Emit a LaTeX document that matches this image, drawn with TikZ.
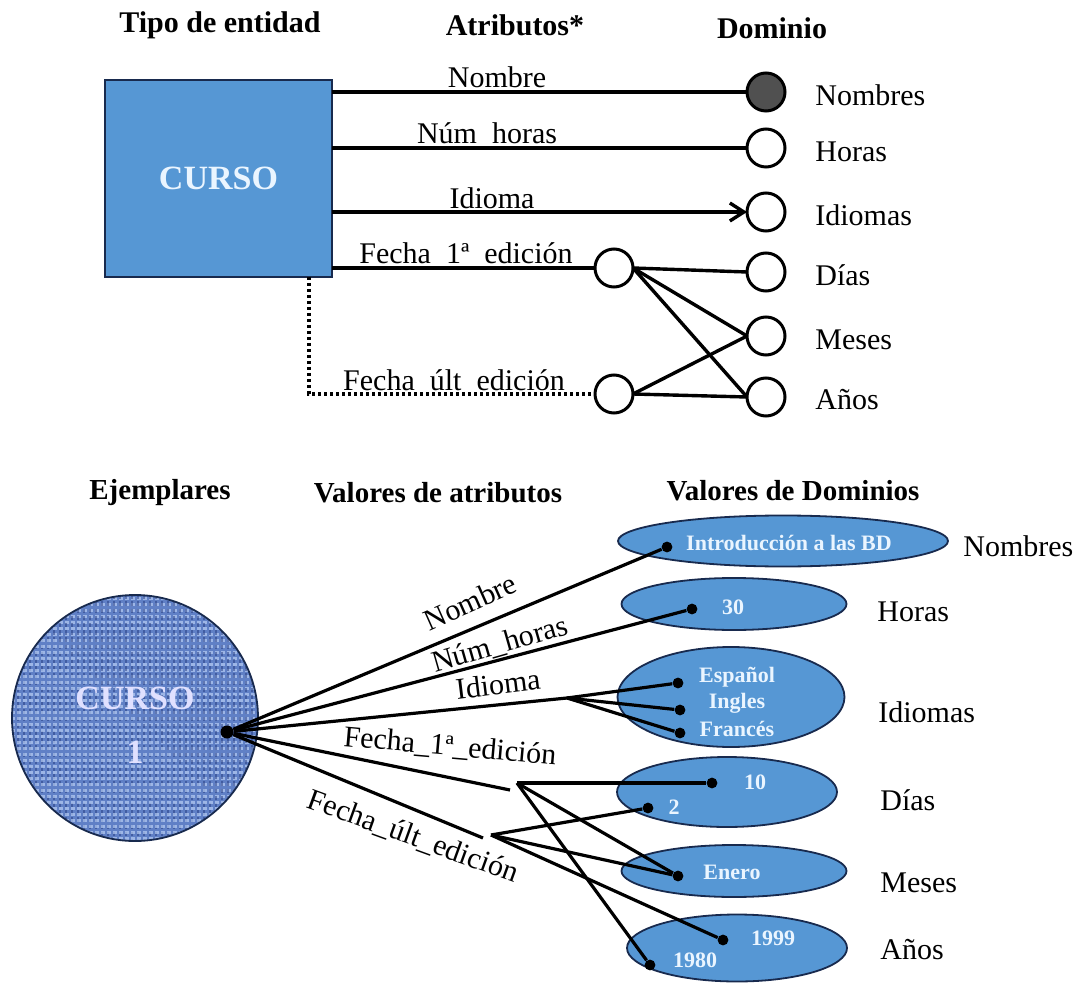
\documentclass[tikz,border=0pt]{standalone}
\usepackage{fontspec}
\setmainfont{Liberation Serif}
\usetikzlibrary{shapes.geometric,arrows.meta}

\definecolor{boxblue}{RGB}{86,151,212}
\definecolor{navy}{RGB}{24,42,78}
\definecolor{paletext}{RGB}{234,245,255}
\definecolor{fabric}{RGB}{96,128,198}
\definecolor{fabriclight}{RGB}{190,212,248}
\definecolor{fabricdark}{RGB}{36,58,126}
\definecolor{darkdom}{RGB}{80,80,80}

\tikzset{
  heading/.style={font=\fontsize{15}{18}\selectfont\bfseries, inner sep=0pt},
  subheading/.style={font=\fontsize{14.5}{17}\selectfont\bfseries, inner sep=0pt},
  lbl/.style={font=\fontsize{15}{18}\selectfont, inner sep=0pt},
  domcircle/.style={circle, draw=black, line width=1.5pt, fill=white, minimum size=19pt, inner sep=0pt, outer sep=0pt},
  attrline/.style={line width=1.7pt},
  link/.style={line width=1.6pt},
  valell/.style={ellipse, draw=navy, line width=0.9pt, fill=boxblue, inner sep=0pt, outer sep=0pt},
  valtext/.style={font=\fontsize{11}{12}\selectfont\bfseries, text=paletext, inner sep=0pt},
  dot/.style={circle, fill=black, inner sep=0pt, minimum size=5.4pt},
  hubdot/.style={circle, fill=black, inner sep=0pt, minimum size=6.5pt},
  instext/.style={font=\fontsize{17}{20}\selectfont\bfseries, text=white!88!blue, inner sep=0pt},
}

\begin{document}
\begin{tikzpicture}[x=0.5pt, y=-0.5pt]
\useasboundingbox (0,0) rectangle (1085,983);

% ---------- entity type level ----------
\node[heading] (h1) at (220,25) {Tipo de entidad};
\node[heading] (h2) at (515,25) {Atributos*};
\node[heading] (h3) at (772,28) {Dominio};

\node[draw=navy, line width=1.1pt, fill=boxblue, minimum width=113.5pt, minimum height=98.5pt,
      inner sep=0pt, outer sep=0pt, font=\fontsize{17}{20}\selectfont\bfseries, text=paletext]
      (sq) at (218.5,178.5) {CURSO};

% domains
\node[domcircle, fill=darkdom] (nom) at (766,92) {};
\node[domcircle] (hor) at (766,148) {};
\node[domcircle] (idi) at (766,212) {};
\node[domcircle] (dia) at (766,272) {};
\node[domcircle] (mes) at (766,336) {};
\node[domcircle] (ano) at (766,397) {};
% intermediate composite attribute circles
\node[domcircle] (f1) at (614,268) {};
\node[domcircle] (fu) at (614,394) {};

\node[lbl, anchor=west] (lnom) at (815,95) {Nombres};
\node[lbl, anchor=west] (lhor) at (815,152) {Horas};
\node[lbl, anchor=west] (lidi) at (815,215) {Idiomas};
\node[lbl, anchor=west] (ldia) at (815,275) {Días};
\node[lbl, anchor=west] (lmes) at (815,340) {Meses};
\node[lbl, anchor=west] (lano) at (815,400) {Años};

% attribute connectors
\draw[attrline] (nom.west -| sq.east) -- (nom.west);
\draw[attrline] (hor.west -| sq.east) -- (hor.west);
\draw[attrline, -{Straight Barb[length=7pt,width=9pt]}] (idi.west -| sq.east) -- (idi.west);
\draw[attrline] (f1.west -| sq.east) -- (f1.west);
\draw[attrline, dash pattern=on 1.5pt off 1.5pt] ([xshift=-11.5pt]sq.south east) |- (fu.west);

\draw[attrline] (f1.east) -- (dia.west);
\draw[attrline] (f1.east) -- (mes.west);
\draw[attrline] (f1.east) -- (ano.west);
\draw[attrline] (fu.east) -- (mes.west);
\draw[attrline] (fu.east) -- (ano.west);

\node[lbl, anchor=base] (anom) at (497,88) {Nombre};
\node[lbl, anchor=base] (ahor) at (487,144) {Núm\ \ horas};
\node[lbl, anchor=base] (aidi) at (492,209) {Idioma};
\node[lbl, anchor=base] (af1) at (466,264) {Fecha\ \ 1ª\ \ edición};
\node[lbl, anchor=base] (afu) at (454,391) {Fecha\ \ últ\ \ edición};

% ---------- instance level ----------
\node[subheading] (h4) at (160,493) {Ejemplares};
\node[subheading] (h5) at (438,493) {Valores de atributos};
\node[subheading] (h6) at (793,491) {Valores de Dominios};

% the course instance, woven texture
\node[circle, draw=navy, line width=0.9pt, fill=fabric, minimum size=123pt, inner sep=0pt,
  path picture={
    \foreach \k in {-22,...,22} {
      \draw[fabriclight, line width=1.5pt, opacity=0.65, dash pattern=on 2pt off 1pt]
        ([shift={(-130,\k*6)}]path picture bounding box.center) -- ++(260,0);
      \draw[fabricdark, line width=0.8pt, opacity=0.5, dash pattern=on 2.2pt off 1.4pt]
        ([shift={(\k*6+3,-131)}]path picture bounding box.center) -- ++(0,262);
    }
  }] (c1) at (135,718) {};
\node[instext] (c1a) at (135,698) {CURSO};
\node[instext] (c1b) at (135,752) {1};
\node[hubdot] (hub) at (227,732) {};

% value ellipses
\node[valell, minimum width=165pt, minimum height=25.5pt] (enom) at (783,541) {};
\node[valell, minimum width=112.5pt, minimum height=26pt] (ehor) at (734,604) {};
\node[valell, minimum width=113.5pt, minimum height=50pt] (eidi) at (731,697) {};
\node[valell, minimum width=110pt, minimum height=35pt] (edia) at (727,792) {};
\node[valell, minimum width=112.5pt, minimum height=26pt] (emes) at (734,871) {};
\node[valell, minimum width=110pt, minimum height=33.5pt] (eano) at (737,948) {};

\node[valtext] (tnom) at (789,543) {Introducción a las BD};
\node[valtext] (thor) at (733,607) {30};
\node[valtext] (tesp) at (737,677) {Español};
\node[valtext] (ting) at (737,703) {Ingles};
\node[valtext] (tfra) at (737,729) {Francés};
\node[valtext] (t10) at (755,782) {10};
\node[valtext] (t2) at (674,807) {2};
\node[valtext] (tene) at (732,872) {Enero};
\node[valtext] (t1999) at (773,938) {1999};
\node[valtext] (t1980) at (695,960) {1980};

\node[dot] (dnom) at (667,547) {};
\node[dot] (dhor) at (692,609) {};
\node[dot] (desp) at (678,683) {};
\node[dot] (ding) at (680,710) {};
\node[dot] (dfra) at (680,733) {};
\node[dot] (d10) at (712,783) {};
\node[dot] (d2) at (648,808) {};
\node[dot] (dene) at (678,876) {};
\node[dot] (d1999) at (723,940) {};
\node[dot] (d1980) at (650,965) {};

\node[lbl, anchor=west] (vnom) at (963,546) {Nombres};
\node[lbl, anchor=west] (vhor) at (877,612) {Horas};
\node[lbl, anchor=west] (vidi) at (878,712) {Idiomas};
\node[lbl, anchor=west] (vdia) at (880,800) {Días};
\node[lbl, anchor=west] (vmes) at (880,883) {Meses};
\node[lbl, anchor=west] (vano) at (880,950) {Años};

% branching points of the attribute values
\coordinate (idb) at (567,698);
\coordinate (f1end) at (510,790);
\coordinate (f1b) at (517,783);
\coordinate (fuend) at (483,838);
\coordinate (fub) at (491,835);

\draw[link] (hub) -- (dnom);
\draw[link] (hub) -- (dhor);
\draw[link] (hub) -- (idb);
\draw[link] (idb) -- (desp);
\draw[link] (idb) -- (ding);
\draw[link] (idb) -- (dfra);
\draw[link] (hub) -- (f1end);
\draw[link] (f1b) -- (d10);
\draw[link] (f1b) -- (dene);
\draw[link] (f1b) -- (d1980);
\draw[link] (hub) -- (fuend);
\draw[link] (fub) -- (d2);
\draw[link] (fub) -- (dene);
\draw[link] (fub) -- (d1999);

\node[lbl, rotate=24] (vlnom) at (470,602) {Nombre};
\node[lbl, rotate=16] (vlhor) at (500,645) {Núm\_horas};
\node[lbl, rotate=7] (vlidi) at (498,684) {Idioma};
\node[lbl, rotate=-5] (vlf1) at (450,747) {Fecha\_1ª\_edición};
\node[lbl, rotate=-20] (vlfu) at (413,837) {Fecha\_últ\_edición};
\end{tikzpicture}
\end{document}
